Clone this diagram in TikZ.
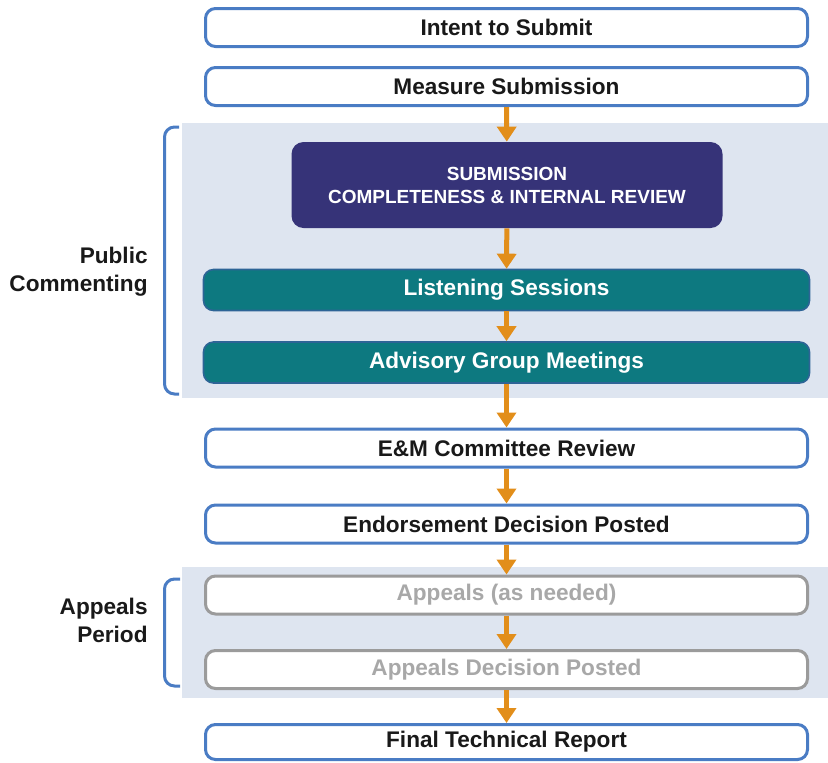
\documentclass[tikz,border=0pt]{standalone}
\usepackage{fontspec}
\setmainfont{Liberation Sans}
\usetikzlibrary{arrows.meta}
\definecolor{boxblue}{RGB}{74,124,196}
\definecolor{flowor}{RGB}{226,142,26}
\definecolor{bandfill}{RGB}{222,229,240}
\definecolor{reviewpurple}{RGB}{54,51,120}
\definecolor{sessionteal}{RGB}{13,121,128}
\definecolor{sessionedge}{RGB}{45,100,150}
\definecolor{appealgray}{RGB}{155,155,155}
\definecolor{appealtext}{RGB}{168,168,168}
\begin{document}
\begin{tikzpicture}[x=0.5pt,y=-0.5pt,
  every node/.style={font=\bfseries\fontsize{11.3}{14}\selectfont},
  stage/.style={draw=boxblue,line width=1.5pt,rounded corners=5pt,fill=white,
    minimum width=301pt,minimum height=19pt,inner sep=0pt,text=black!90},
  review/.style={fill=reviewpurple,rounded corners=6pt,minimum width=215.5pt,
    minimum height=43pt,inner sep=0pt,align=center,text=white,
    font=\bfseries\fontsize{9.5}{11.5}\selectfont},
  session/.style={draw=sessionedge,line width=0.8pt,fill=sessionteal,rounded corners=5pt,
    minimum width=303pt,minimum height=20.5pt,inner sep=0pt,text=white},
  appeal/.style={stage,draw=appealgray,text=appealtext},
  phase/.style={align=right,anchor=east,inner sep=0pt,text=black!90},
  brace/.style={draw=boxblue,line width=1.5pt,rounded corners=5pt},
  flow/.style={draw=flowor,line width=2.5pt,-{Triangle[width=9.5pt,length=7.5pt]}}]
  \useasboundingbox (0,0) rectangle (828,762);
  % shaded phases
  \fill[bandfill] (182,123) rectangle (828,398);
  \fill[bandfill] (182,567) rectangle (828,698);
  \draw[brace] (179,127) -- (164.5,127) -- (164.5,394) -- (179,394);
  \draw[brace] (180,579) -- (164.5,579) -- (164.5,686) -- (180,686);
  \node[phase] (public) at (148,272) {Public\\Commenting};
  \node[phase] (period) at (148,620) {Appeals\\Period};
  % steps
  \node[stage] (intent) at (506.5,27.5) {Intent to Submit};
  \node[stage] (measure) at (506.5,86.5) {Measure Submission};
  \node[review] (subm) at (507,185) {SUBMISSION\\COMPLETENESS \& INTERNAL REVIEW};
  \node[session] (listen) at (506.5,290) {Listening Sessions};
  \node[session] (advisory) at (506.5,362.5) {Advisory Group Meetings};
  \node[stage] (emc) at (506.5,448) {E\&M Committee Review};
  \node[stage] (endorse) at (506.5,524) {Endorsement Decision Posted};
  \node[appeal] (appeals) at (506.5,595) {Appeals (as needed)};
  \node[appeal] (appdec) at (506.5,669.5) {Appeals Decision Posted};
  \node[stage,minimum height=17.5pt] (final) at (506.5,742) {Final Technical Report};
  \foreach \a/\b in {measure/subm,subm/listen,listen/advisory,advisory/emc,
    emc/endorse,endorse/appeals,appeals/appdec,appdec/final}
    \draw[flow] (\a) -- (\b);
\end{tikzpicture}
\end{document}
